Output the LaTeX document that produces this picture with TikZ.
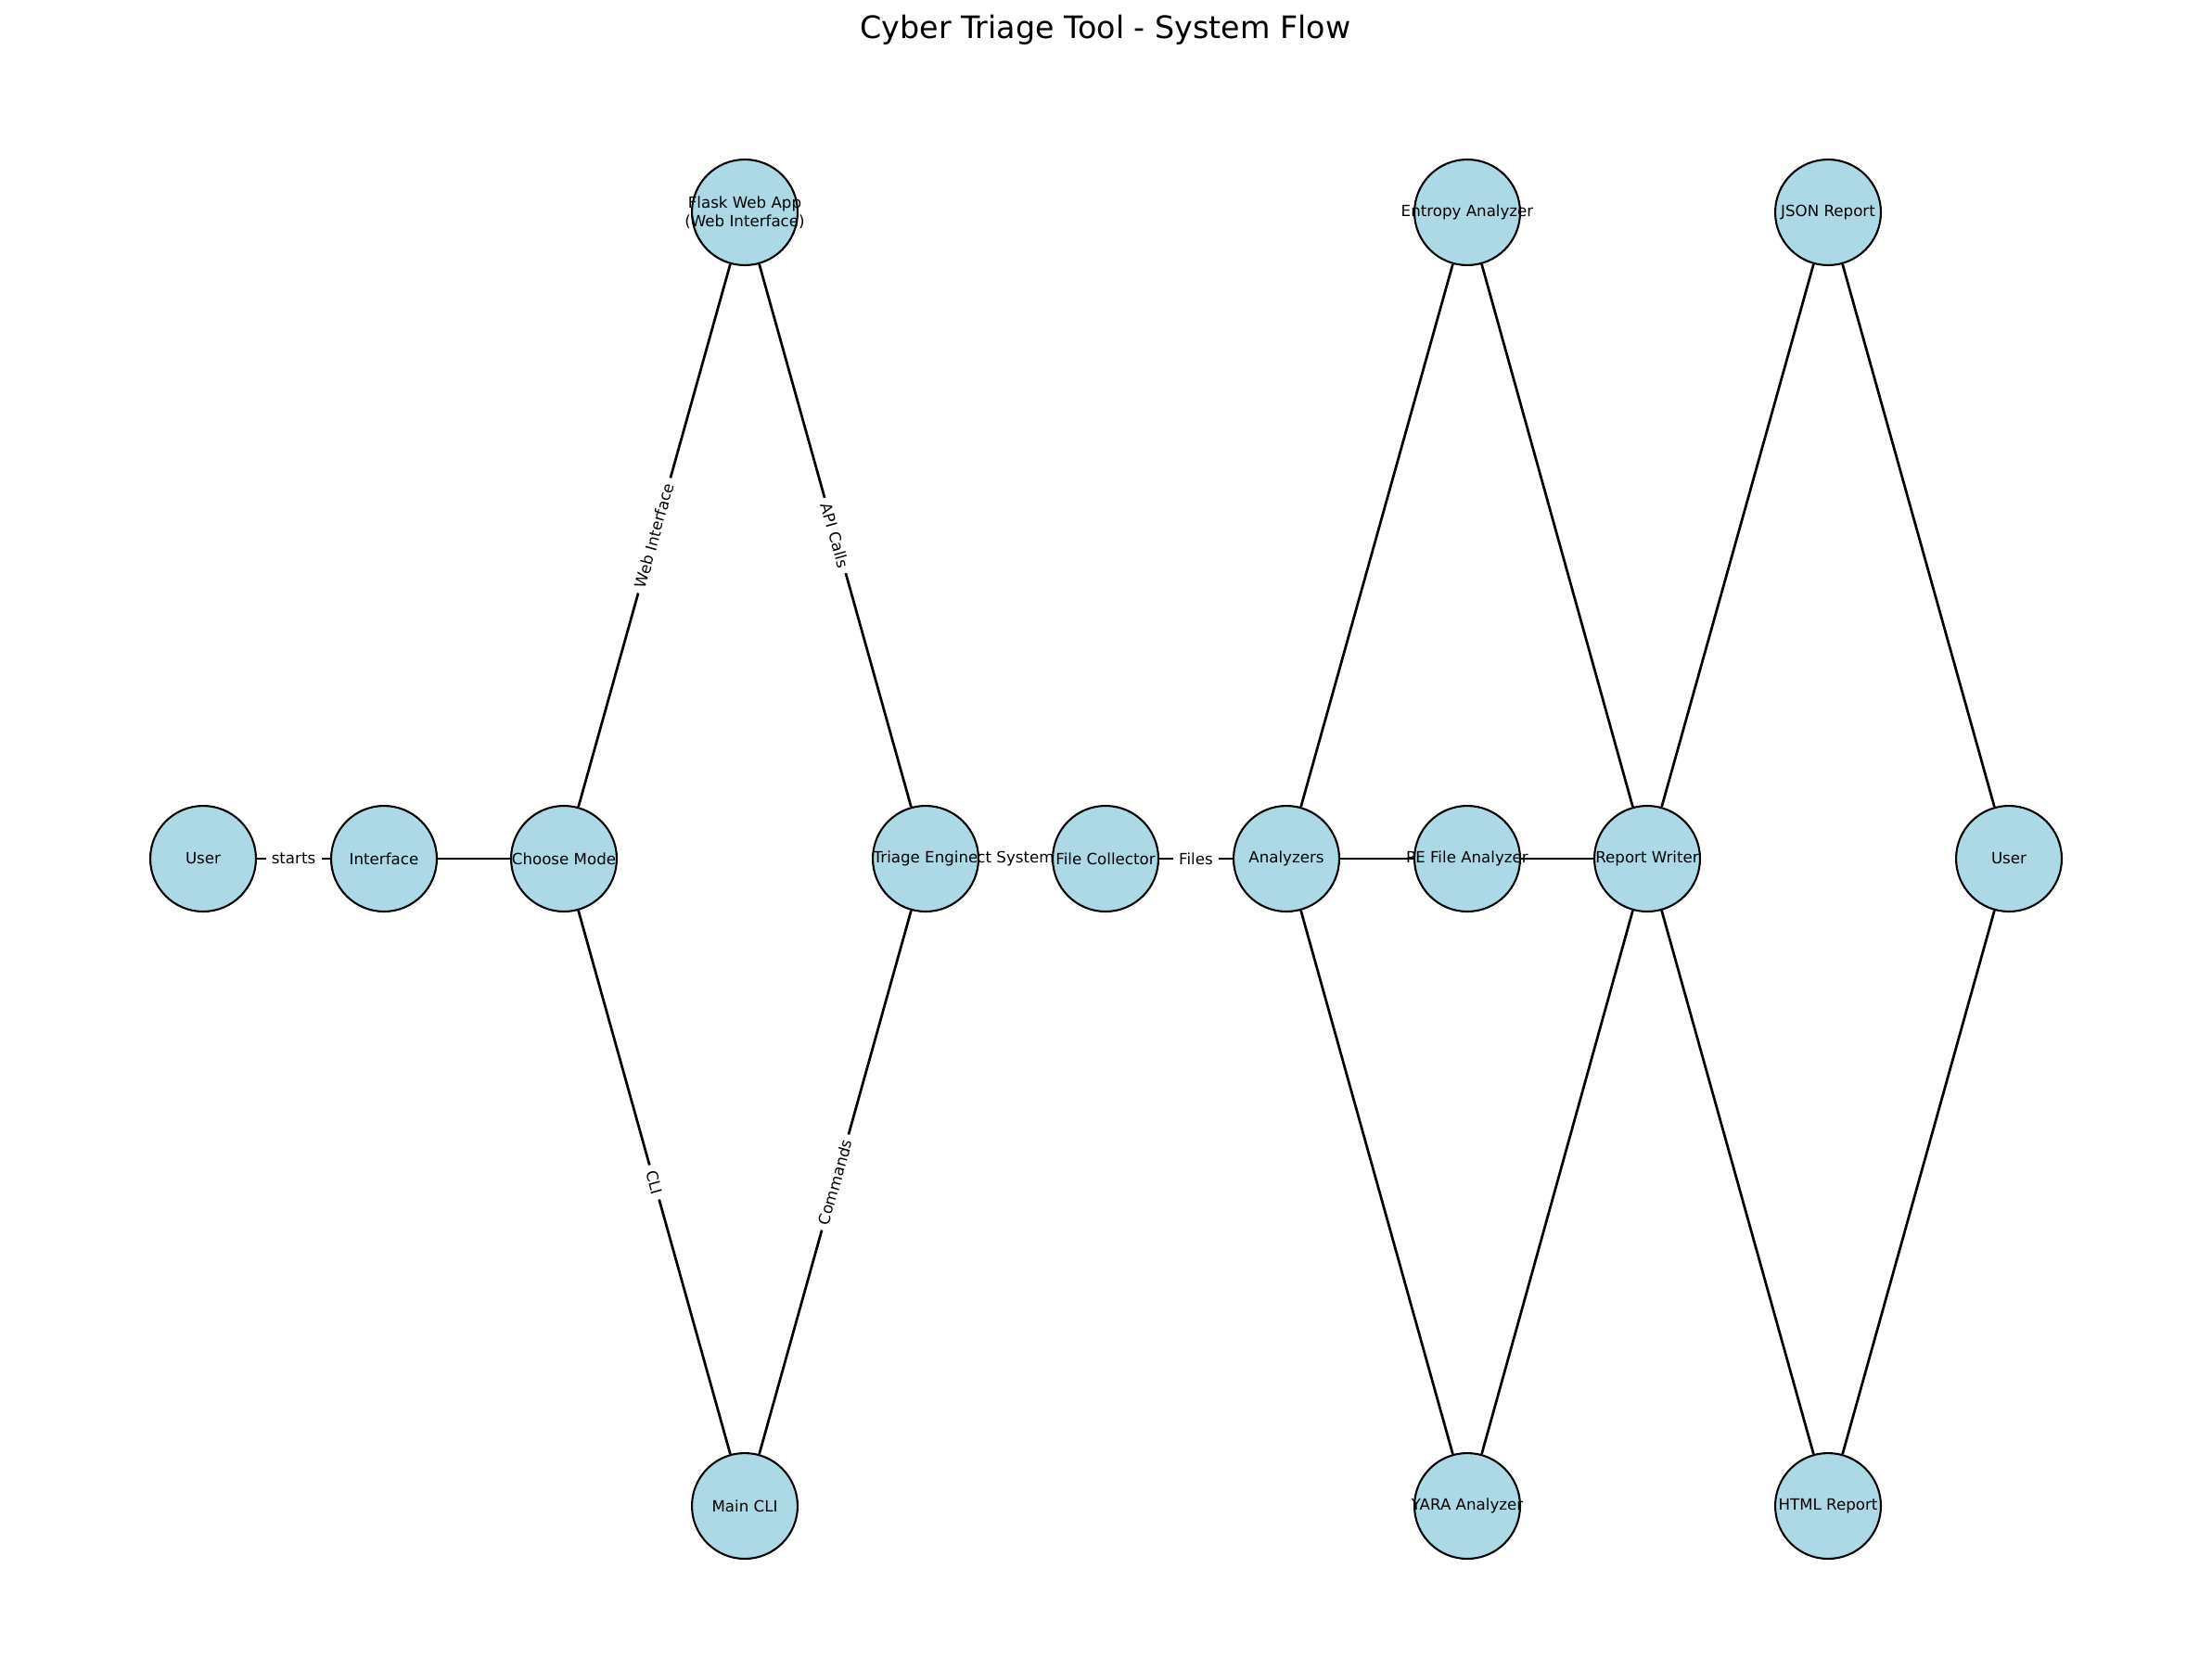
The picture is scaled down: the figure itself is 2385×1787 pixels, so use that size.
\documentclass[tikz,border=0pt]{standalone}
\usepackage{fontspec}
\setmainfont{DejaVu Sans}
\usetikzlibrary{backgrounds}
\definecolor{lightblue}{HTML}{ADD8E6}
\begin{document}
\begin{tikzpicture}[x=0.48pt,y=-0.48pt,
  lab/.style={font=\fontsize{8}{9.6}\selectfont,text=black,align=center,inner sep=0pt},
  nd/.style={circle,draw=black,line width=1pt,fill=lightblue,minimum size=54.7pt,inner sep=0pt,
             label={[lab]center:{#1}}},
  ed/.style={line width=1.3pt,draw=black},
  elab/.style={fill=white,inner xsep=3pt,inner ysep=1.5pt,font=\fontsize{8}{9.6}\selectfont,text=black,sloped,midway}]
\useasboundingbox (0,0) rectangle (2385,1787);
\node[font=\fontsize{16}{19}\selectfont] (title) at (1192,32) {Cyber Triage Tool - System Flow};
% nodes
\node[nd=User] (u1) at (219,926) {};
\node[nd=Interface] (itf) at (414,926) {};
\node[nd=Choose Mode] (cm) at (608,926) {};
\node[nd={Flask Web App\\(Web Interface)}] (fl) at (803,229) {};
\node[nd=Main CLI] (cli) at (803,1624) {};
\node[nd=Triage Engine] (te) at (998,926) {};
\node[nd=File Collector] (fc) at (1192,926) {};
\node[nd=Analyzers] (an) at (1387,926) {};
\node[nd=Entropy Analyzer] (en) at (1582,229) {};
\node[nd=PE File Analyzer] (pe) at (1582,926) {};
\node[nd=YARA Analyzer] (ya) at (1582,1624) {};
\node[nd=Report Writer] (rw) at (1776,926) {};
\node[nd=JSON Report] (js) at (1971,229) {};
\node[nd=HTML Report] (ht) at (1971,1624) {};
\node[nd=User] (u2) at (2166,926) {};
% edges
\begin{scope}[on background layer]
\draw[ed] (u1) -- node[elab] (l1) {starts} (itf);
\draw[ed] (itf) -- (cm);
\draw[ed] (cm) -- node[elab] (l2) {Web Interface} (fl);
\draw[ed] (cm) -- node[elab] (l3) {CLI} (cli);
\draw[ed] (fl) -- node[elab] (l4) {API Calls} (te);
\draw[ed] (cli) -- node[elab] (l5) {Commands} (te);
\draw[ed] (te) -- node[elab] (l6) {ct System} (fc);
\draw[ed] (fc) -- node[elab] (l7) {Files} (an);
\draw[ed] (an) -- (en);
\draw[ed] (an) -- (pe);
\draw[ed] (an) -- (ya);
\draw[ed] (en) -- (rw);
\draw[ed] (pe) -- (rw);
\draw[ed] (ya) -- (rw);
\draw[ed] (rw) -- (js);
\draw[ed] (rw) -- (ht);
\draw[ed] (js) -- (u2);
\draw[ed] (ht) -- (u2);
\end{scope}
\end{tikzpicture}
\end{document}
